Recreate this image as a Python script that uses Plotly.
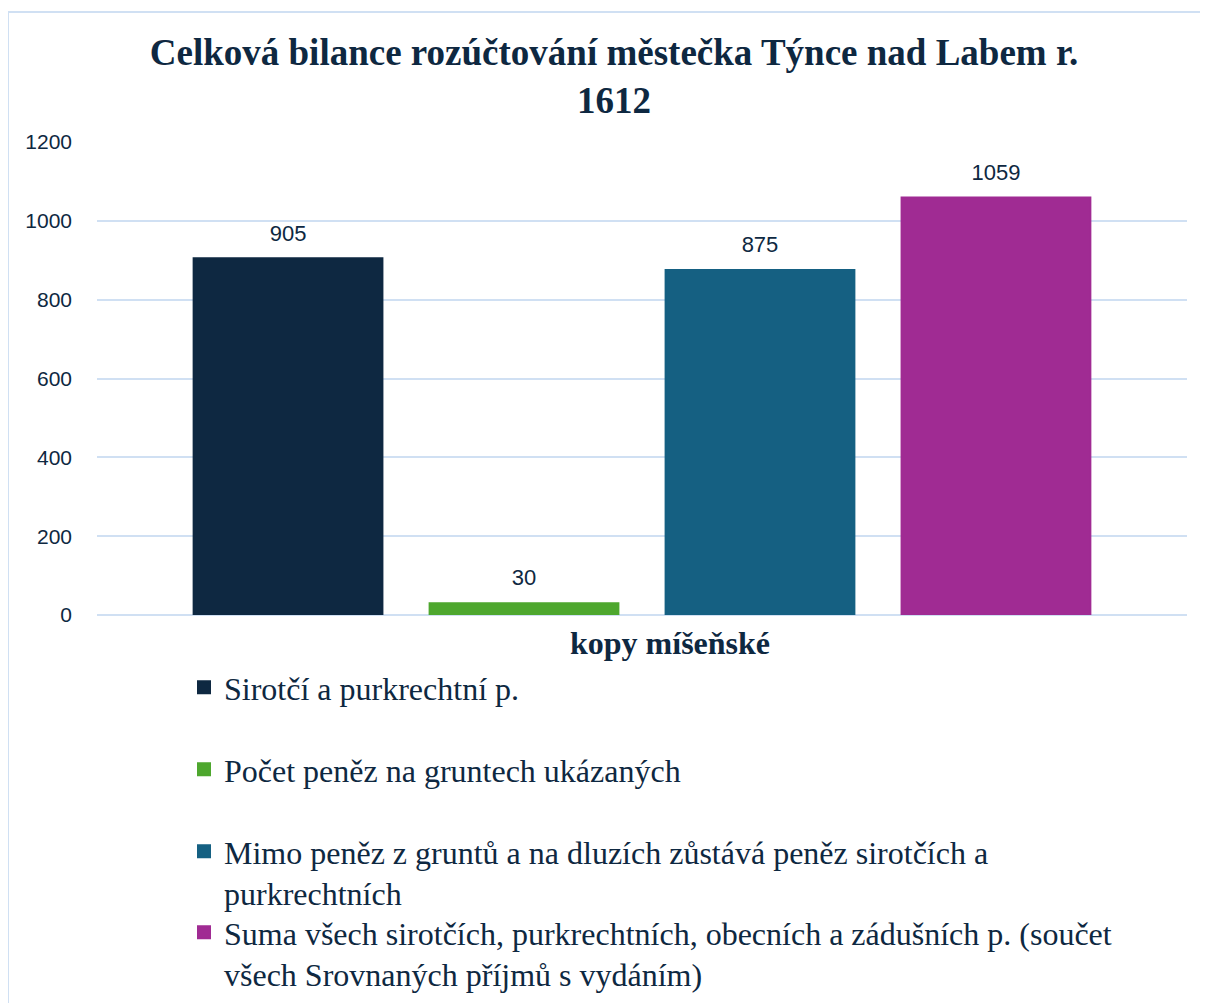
import plotly.graph_objects as go

# ---- data ----
categories = ["kopy míšeňské"]
series_names = [
    "Sirotčí a purkrechtní p.",
    "Počet peněz na gruntech ukázaných",
    "Mimo peněz z gruntů a na dluzích zůstává peněz sirotčích a<br>purkrechtních",
    "Suma všech sirotčích, purkrechtních, obecních a zádušních p. (součet<br>všech Srovnaných příjmů s vydáním)",
]
series_values = [905, 30, 875, 1059]
series_colors = ["#0E2841", "#4EA72E", "#156082", "#A02B93"]
y_ticks = [0, 200, 400, 600, 800, 1000, 1200]
title_text = "Celková bilance rozúčtování městečka Týnce nad Labem r.<br>1612"

OFF = 8                      # page offset of the figure inside the window
W, H = 1200, 995
NAVY = "#0E2841"
GRID = "#D0E0F3"
SERIF = "Liberation Serif, Times New Roman, serif"
SANS = "Liberation Sans, Arial, sans-serif"

# plot area in screen pixels
L, R, T, B = 97, 1187, 142, 615

legend_tops = [660, 742, 824, 905]  # screen pixel tops of each legend

fig = go.Figure()
for i, (name, val, col) in enumerate(zip(series_names, series_values, series_colors)):
    lg = "legend" if i == 0 else f"legend{i+1}"
    fig.add_trace(go.Bar(
        x=categories, y=[val], name=name, marker_color=col,
        marker_line=dict(color=col, width=2), offsetgroup=str(i),
        cliponaxis=False, legend=lg, hoverinfo="skip",
    ))
# data labels, grouped exactly like the bars
for i, val in enumerate(series_values):
    fig.add_trace(go.Scatter(
        x=categories, y=[val], mode="markers+text", text=[str(val)],
        textposition="top center", offsetgroup=str(i),
        marker=dict(size=18, opacity=0), showlegend=False, cliponaxis=False,
        textfont=dict(family=SANS, size=22, color=NAVY), hoverinfo="skip",
    ))

legend_common = dict(
    xref="container", yref="container", x=(184 - OFF) / W, xanchor="left", yanchor="top",
    font=dict(family=SERIF, size=32, color=NAVY), bgcolor="rgba(0,0,0,0)",
    valign="top", borderwidth=0,
)
lay = {}
for i, top in enumerate(legend_tops):
    key = "legend" if i == 0 else f"legend{i+1}"
    lay[key] = dict(legend_common, y=1 - (top - OFF) / H)

fig.update_layout(
    width=W, height=H,
    margin=dict(l=L - OFF, r=W - (R - OFF), t=T - OFF, b=H - (B - OFF), pad=0, autoexpand=False),
    paper_bgcolor="white", plot_bgcolor="white",
    title=dict(text=title_text, x=(614 - OFF) / W, xanchor="center", xref="container",
               yref="container", y=1 - 57 / H, yanchor="top",
               font=dict(family=SERIF, size=37, color=NAVY, weight="bold")),
    barmode="group", bargap=0.134, bargroupgap=0.2,
    scattermode="group", scattergap=0.134,
    showlegend=True,
    xaxis=dict(showticklabels=False, showgrid=False, zeroline=False, showline=False,
               ticks=""),
    yaxis=dict(range=[0, 1200], tickvals=y_ticks, showgrid=True, gridcolor=GRID,
               gridwidth=2, zeroline=True, zerolinecolor=GRID, zerolinewidth=2,
               showline=False, ticks="", ticklabelstandoff=24,
               tickfont=dict(family=SANS, size=21, color=NAVY)),
    **lay,
)

# category label (x axis)
fig.add_annotation(text=f"<b>{categories[0]}</b>", xref="paper", yref="paper",
                   x=(670 - L) / (R - L), y=(B - 643) / (B - T), showarrow=False,
                   xanchor="center", yanchor="middle",
                   font=dict(family=SERIF, size=32, color=NAVY))

# chart border
fig.add_shape(type="rect", xref="paper", yref="paper",
              x0=(8 - L) / (R - L), x1=(1220 - L) / (R - L),
              y0=(B - 1020) / (B - T), y1=(B - 12) / (B - T),
              line=dict(color=GRID, width=2), fillcolor="rgba(0,0,0,0)", layer="below")

fig.write_html("out.html")
